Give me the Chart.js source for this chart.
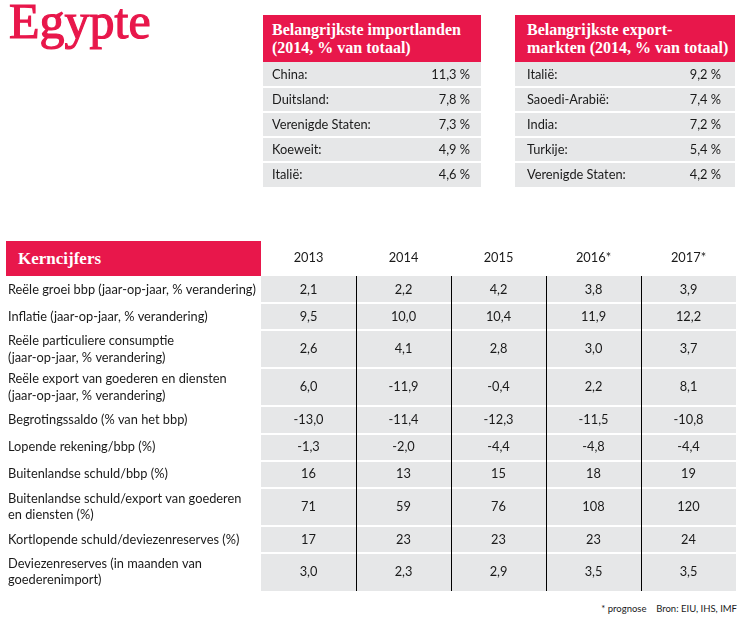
<!DOCTYPE html>
<html>
<head>
<meta charset="utf-8">
<script src="https://cdn.jsdelivr.net/npm/chart.js@4.4.1/dist/chart.umd.min.js"></script>
<style>
  html, body { margin: 0; padding: 0; background: #fff; }
  body { width: 740px; height: 619px; position: relative; overflow: hidden; color: #1a1a1a; }
  .title { position: absolute; left: 9px; top: -4px; font: 50px/50px "Liberation Serif", serif; color: #e8174b; -webkit-text-stroke: 1.2px #e8174b; }
  .head { position: absolute; background: #e8174b; color: #fff; font: bold 16px/18px "Liberation Serif", serif; box-sizing: border-box; }
  canvas { position: absolute; display: block; }
  .note { position: absolute; right: 3px; top: 603px; font: 9.5px Lato, sans-serif; white-space: pre; color: #1a1a1a; }
</style>
</head>
<body>
<div class="title">Egypte</div>

<div class="head" style="left:263px; top:15px; width:218px; height:47px; padding:6px 0 0 9px;">Belangrijkste importlanden<br>(2014, % van totaal)</div>
<canvas id="importTable" width="218" height="125" style="left:263px; top:62px;"></canvas>

<div class="head" style="left:515px; top:15px; width:220px; height:47px; padding:6px 0 0 12px;">Belangrijkste export-<br>markten (2014, % van totaal)</div>
<canvas id="exportTable" width="220" height="125" style="left:515px; top:62px;"></canvas>

<canvas id="mainTable" width="730" height="350" style="left:6px; top:241px;"></canvas>
<div class="head" style="left:6px; top:241px; width:255px; height:35px; padding:0 0 0 12px; font-size:17px; line-height:35px;">Kerncijfers</div>

<div class="note">* prognose    Bron: EIU, IHS, IMF</div>

<script>
const importCountries = ["China:", "Duitsland:", "Verenigde Staten:", "Koeweit:", "Italië:"];
const importShares = [11.3, 7.8, 7.3, 4.9, 4.6];

const exportMarkets = ["Italië:", "Saoedi-Arabië:", "India:", "Turkije:", "Verenigde Staten:"];
const exportShares = [9.2, 7.4, 7.2, 5.4, 4.2];

const years = ["2013", "2014", "2015", "2016*", "2017*"];
const indicators = [
    ["Reële groei bbp (jaar-op-jaar, % verandering)"],
    ["Inflatie (jaar-op-jaar, % verandering)"],
    ["Reële particuliere consumptie", "(jaar-op-jaar, % verandering)"],
    ["Reële export van goederen en diensten", "(jaar-op-jaar, % verandering)"],
    ["Begrotingssaldo (% van het bbp)"],
    ["Lopende rekening/bbp (%)"],
    ["Buitenlandse schuld/bbp (%)"],
    ["Buitenlandse schuld/export van goederen", "en diensten (%)"],
    ["Kortlopende schuld/deviezenreserves (%)"],
    ["Deviezenreserves (in maanden van", "goederenimport)"],
];
const decimals = [1, 1, 1, 1, 1, 1, 0, 0, 0, 1];
const values2013 = [2.1, 9.5, 2.6, 6.0, -13.0, -1.3, 16, 71, 17, 3.0];
const values2014 = [2.2, 10.0, 4.1, -11.9, -11.4, -2.0, 13, 59, 23, 2.3];
const values2015 = [4.2, 10.4, 2.8, -0.4, -12.3, -4.4, 15, 76, 23, 2.9];
const values2016 = [3.8, 11.9, 3.0, 2.2, -11.5, -4.8, 18, 108, 23, 3.5];
const values2017 = [3.9, 12.2, 3.7, 8.1, -10.8, -4.4, 19, 120, 24, 3.5];
const yearValues = [values2013, values2014, values2015, values2016, values2017];

const RED = "#e8174b";
const GREY = "#e6e7e8";
const INK = "#1a1a1a";
const SANS = 'Lato, "Open Sans", sans-serif';

// pick a size so the widest indicator line fits the label column
const meas = document.createElement("canvas").getContext("2d");
meas.font = "13px " + SANS;
const widest = Math.max(...indicators.flat().map((t) => meas.measureText(t).width));
const FS = Math.min(13.5, (13 * 248) / widest);

const fmt = (v, d) => v.toFixed(d).replace(".", ",");

// row heights grow with the number of label lines
const rowWeights = indicators.map((l) => 1 + 0.4 * (l.length - 1));
const rowEdges = [0];
rowWeights.forEach((w) => rowEdges.push(rowEdges[rowEdges.length - 1] + w));
const rowCenters = rowWeights.map((w, i) => rowEdges[i] + w / 2);

// no extra room for labels that stick out of the chart area
const noMargins = (s) => {
    s.paddingTop = 0;
    s.paddingBottom = 0;
    s.paddingLeft = 0;
    s.paddingRight = 0;
};

const tableCells = {
    id: "tableCells",
    beforeDraw(chart, args, opts) {
        const { ctx, chartArea: a } = chart;
        ctx.save();
        ctx.fillStyle = GREY;
        ctx.fillRect(a.left, a.top, a.right - a.left, a.bottom - a.top);
        if (opts.edges) {
            const y = chart.scales.y;
            ctx.strokeStyle = "#fff";
            ctx.lineWidth = 2;
            opts.edges.slice(1, -1).forEach((v) => {
                const py = Math.round(y.getPixelForValue(v));
                ctx.beginPath();
                ctx.moveTo(a.left, py);
                ctx.lineTo(a.right, py);
                ctx.stroke();
            });
        }
        ctx.restore();
    },
    afterDraw(chart, args, opts) {
        const { ctx, chartArea: a } = chart;
        const { x, y } = chart.scales;
        ctx.save();
        ctx.fillStyle = INK;
        ctx.font = FS + "px " + SANS;
        ctx.textBaseline = "middle";
        if (opts.shares) {
            ctx.textAlign = "right";
            opts.shares.forEach((v, i) => {
                ctx.fillText(fmt(v, 1) + " %", a.right - opts.inset, y.getPixelForValue(i));
            });
        }
        if (opts.columns) {
            ctx.textAlign = "center";
            opts.columns.forEach((col, c) => {
                col.forEach((v, r) => {
                    ctx.fillText(fmt(v, decimals[r]), x.getPixelForValue(c), y.getPixelForValue(rowCenters[r]));
                });
            });
        }
        ctx.restore();
    },
};

function initShareTable(canvasId, labels, shares, inset) {
    const el = document.getElementById(canvasId);
    if (!el) return;

    new Chart(el, {
        type: "bar",
        data: { labels: labels, datasets: [] },
        plugins: [tableCells],
        options: {
            responsive: false,
            animation: false,
            events: [],
            layout: { padding: 0 },
            plugins: {
                legend: { display: false },
                tooltip: { enabled: false },
                tableCells: { shares: shares, inset: inset },
            },
            scales: {
                x: { type: "linear", display: false, min: 0, max: 1 },
                y: {
                    type: "category",
                    labels: labels,
                    offset: true,
                    border: { display: false },
                    grid: {
                        offset: true,
                        drawTicks: false,
                        lineWidth: 2,
                        color: (c) => (c.type === "tick" && c.index > 0 ? "#fff" : "transparent"),
                    },
                    ticks: {
                        mirror: true,
                        crossAlign: "near",
                        padding: inset - 2,
                        color: INK,
                        font: { family: SANS, size: FS },
                    },
                    afterFit: (s) => {
                        s.width = 0;
                        noMargins(s);
                    },
                },
            },
        },
    });
}

initShareTable("importTable", importCountries, importShares, 11);
initShareTable("exportTable", exportMarkets, exportShares, 14);

new Chart(document.getElementById("mainTable"), {
    type: "bar",
    data: { labels: years, datasets: [] },
    plugins: [tableCells],
    options: {
        responsive: false,
        animation: false,
        events: [],
        layout: { padding: { left: 2, right: 0, top: 0, bottom: 0 } },
        plugins: {
            legend: { display: false },
            tooltip: { enabled: false },
            tableCells: { edges: rowEdges, columns: yearValues },
        },
        scales: {
            x: {
                type: "category",
                position: "top",
                offset: true,
                border: { display: false },
                grid: {
                    offset: true,
                    drawTicks: false,
                    lineWidth: 1,
                    color: (c) => (c.type === "tick" && c.index > 0 ? "#000" : "transparent"),
                },
                ticks: { padding: 10, color: INK, font: { family: SANS, size: FS } },
                afterFit: (s) => {
                    s.height = 35;
                    noMargins(s);
                },
            },
            y: {
                type: "linear",
                reverse: true,
                min: 0,
                max: rowEdges[rowEdges.length - 1],
                border: { display: false },
                grid: { display: false },
                afterBuildTicks: (s) => { s.ticks = rowCenters.map((v) => ({ value: v })); },
                ticks: {
                    autoSkip: false,
                    crossAlign: "far",
                    color: INK,
                    font: { family: SANS, size: FS, lineHeight: 1.3 },
                    callback: (value, index) => indicators[index],
                },
                afterFit: (s) => {
                    s.width = 253;
                    noMargins(s);
                },
            },
        },
    },
});
</script>
</body>
</html>
